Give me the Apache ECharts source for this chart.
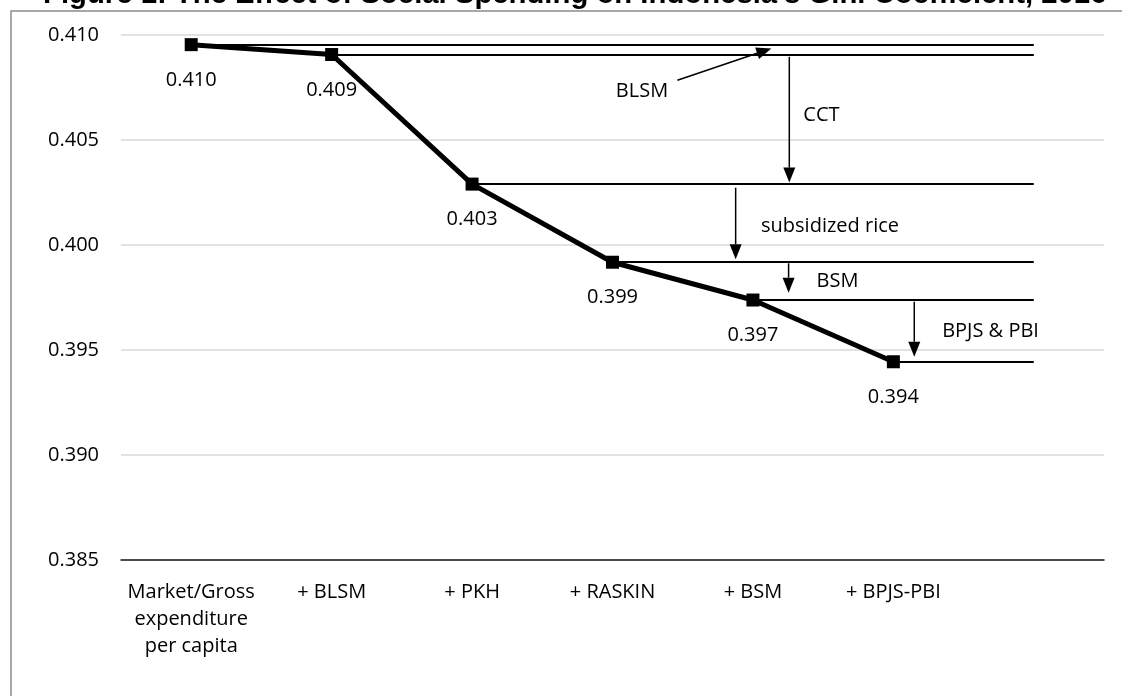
<!DOCTYPE html>
<html>
<head>
<meta charset="utf-8">
<title>Gini Coefficient, Indonesia 2016</title>
<script src="https://cdn.jsdelivr.net/npm/echarts@6/dist/echarts.min.js"></script>
<style>
  html, body { margin: 0; padding: 0; background: #fff; }
  #chart { width: 1122px; height: 696px; }
</style>
</head>
<body>
<div id="chart"></div>
<script>
// Steps of the fiscal-incidence chain (last slot is blank, it only carries the level lines)
const categories = ['Market/Gross\nexpenditure\nper capita', '+ BLSM', '+ PKH', '+ RASKIN', '+ BSM', '+ BPJS-PBI', ''];
// Gini coefficient after each step
const giniValues = [0.40954, 0.40907, 0.40290, 0.39918, 0.39738, 0.39444];
// Value-axis range and tick step
const yMin = 0.385;
const yMax = 0.410;
const yStep = 0.005;

// Callout names for each programme, with their anchor in (step, gini) units
const calloutNames = ['BLSM', 'CCT', 'subsidized rice', 'BSM', 'BPJS & PBI'];
const calloutAnchors = [[3.210, 0.40732], [4.488, 0.40620], [4.549, 0.40090], [4.602, 0.39825], [5.692, 0.39590]];
// Arrows that tie each programme to its drop: [fromStep, fromGini, toStep, toGini]
const calloutArrows = [
  [3.462, 0.407843, 4.131, 0.409362],
  [4.259, 0.408962, 4.259, 0.402971],
  [3.877, 0.402729, 3.877, 0.399319],
  [4.254, 0.399129, 4.254, 0.397729],
  [5.149, 0.397300, 5.149, 0.394681]
];

const titleText = "Figure 1: The Effect of Social Spending on Indonesia's Gini Coefficient, 2016";
const lastSlot = categories.length - 1;
const labelFont = "'Open Sans', 'Noto Sans', sans-serif";

const chart = echarts.init(document.getElementById('chart'), null, { renderer: 'canvas' });

const option = {
  animation: false,
  backgroundColor: '#ffffff',
  graphic: [
    {
      type: 'rect',
      shape: { x: 11, y: 11, width: 1400, height: 1000 },
      style: { fill: 'none', stroke: '#8c8c8c', lineWidth: 1.5 },
      silent: true,
      z: 0
    },
    {
      type: 'text',
      x: 43,
      y: -5,
      style: {
        text: titleText,
        font: "bold 29.3px 'Liberation Sans', Arial, sans-serif",
        fill: '#000',
        textAlign: 'left',
        textVerticalAlign: 'middle'
      },
      silent: true,
      z: 10
    }
  ],
  grid: { left: 121, right: 18, top: 35, bottom: 136, containLabel: false },
  xAxis: [
    {
      type: 'category',
      data: categories,
      boundaryGap: true,
      axisLine: { show: true, lineStyle: { color: '#1a1a1a', width: 1.5 } },
      axisTick: { show: false },
      axisLabel: {
        interval: 0,
        margin: 19,
        color: '#000',
        fontFamily: labelFont,
        fontSize: 20,
        lineHeight: 27
      },
      splitLine: { show: false }
    },
    {
      type: 'value',
      min: -0.5,
      max: lastSlot + 0.5,
      show: false
    }
  ],
  yAxis: {
    type: 'value',
    min: yMin,
    max: yMax,
    interval: yStep,
    axisLine: { show: false },
    axisTick: { show: false },
    axisLabel: {
      margin: 22,
      color: '#000',
      fontFamily: labelFont,
      fontSize: 20,
      formatter: v => v.toFixed(3)
    },
    splitLine: { show: true, lineStyle: { color: '#d9d9d9', width: 1.5 } }
  },
  series: [
    {
      name: 'Gini',
      type: 'line',
      xAxisIndex: 0,
      data: giniValues,
      symbol: 'rect',
      symbolSize: 13,
      lineStyle: { color: '#000', width: 5 },
      itemStyle: { color: '#000' },
      label: {
        show: true,
        position: 'bottom',
        distance: 19,
        color: '#000',
        fontFamily: labelFont,
        fontSize: 20,
        formatter: p => p.value.toFixed(3)
      },
      markLine: {
        silent: true,
        symbol: ['none', 'none'],
        label: { show: false },
        lineStyle: { color: '#000', width: 2, type: 'solid' },
        data: giniValues.map((v, i) => [{ coord: [i, v] }, { coord: [lastSlot, v] }])
      },
      z: 5
    },
    {
      name: 'arrows',
      type: 'custom',
      xAxisIndex: 1,
      yAxisIndex: 0,
      silent: true,
      data: calloutArrows,
      encode: { x: [0, 2], y: [1, 3] },
      renderItem: function (params, api) {
        const p1 = api.coord([api.value(0), api.value(1)]);
        const p2 = api.coord([api.value(2), api.value(3)]);
        const dx = p2[0] - p1[0];
        const dy = p2[1] - p1[1];
        const len = Math.sqrt(dx * dx + dy * dy);
        const ux = dx / len, uy = dy / len;
        const headLen = 15, headHalf = 6;
        const bx = p2[0] - ux * headLen, by = p2[1] - uy * headLen;
        return {
          type: 'group',
          children: [
            {
              type: 'line',
              shape: { x1: p1[0], y1: p1[1], x2: bx, y2: by },
              style: { stroke: '#000', lineWidth: 1.5 }
            },
            {
              type: 'polygon',
              shape: {
                points: [
                  [p2[0], p2[1]],
                  [bx - uy * headHalf, by + ux * headHalf],
                  [bx + uy * headHalf, by - ux * headHalf]
                ]
              },
              style: { fill: '#000' }
            }
          ]
        };
      },
      z: 6
    },
    {
      name: 'callouts',
      type: 'custom',
      xAxisIndex: 1,
      yAxisIndex: 0,
      silent: true,
      data: calloutAnchors.map((a, i) => [a[0], a[1], i]),
      encode: { x: 0, y: 1 },
      renderItem: function (params, api) {
        const p = api.coord([api.value(0), api.value(1)]);
        return {
          type: 'text',
          x: p[0],
          y: p[1],
          style: {
            text: calloutNames[api.value(2)],
            font: "20px " + labelFont,
            fill: '#000',
            textAlign: 'center',
            textVerticalAlign: 'middle'
          }
        };
      },
      z: 6
    }
  ]
};

chart.setOption(option);
</script>
</body>
</html>
